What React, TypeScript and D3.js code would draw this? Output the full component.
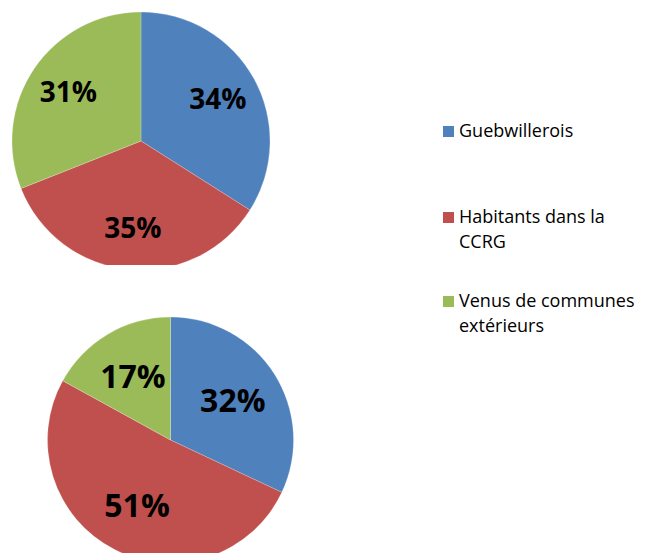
import React from "react";
import * as d3 from "d3";

const categories = ["Guebwillerois", "Habitants dans la CCRG", "Venus de communes extérieurs"];
const legendLines = [["Guebwillerois"], ["Habitants dans la", "CCRG"], ["Venus de communes", "extérieurs"]];
const colors = ["#4F81BD", "#C0504D", "#9BBB59"];
const topValues = [34, 35, 31];
const bottomValues = [32, 51, 17];

const W = 654;
const H = 553;

function Pie({ values, cx, cy, r, fontSize, labelFrac, clipId }: any) {
  const pie = d3.pie<number>().sort(null).value((d) => d);
  const arcs = pie(values);
  const arc = d3.arc<d3.PieArcDatum<number>>().innerRadius(0).outerRadius(r);
  const labelArc = d3.arc<d3.PieArcDatum<number>>().innerRadius(r * labelFrac).outerRadius(r * labelFrac);
  const total = d3.sum(values);
  return (
    <g clipPath={clipId ? `url(#${clipId})` : undefined}>
      <g transform={`translate(${cx},${cy})`}>
        {arcs.map((a, i) => (
          <path key={i} d={arc(a) || ""} fill={colors[i]} stroke="#ffffff" strokeOpacity={0.35} strokeWidth={0.6} />
        ))}
        {arcs.map((a, i) => {
          const [x, y] = labelArc.centroid(a);
          return (
            <text key={"t" + i} x={x} y={y} dy="0.36em" textAnchor="middle" fontFamily="'Open Sans', sans-serif" fontWeight="bold" fontSize={fontSize} fill="#000">
              {Math.round((values[i] / total) * 100)}%
            </text>
          );
        })}
      </g>
    </g>
  );
}

export default function App() {
  const legendX = 443;
  const legendY = [137, 223, 307];
  return (
    <svg width={W} height={H} style={{ position: "fixed", left: 0, top: 0, background: "#fff" }}>
      <defs>
        <clipPath id="topClip">
          <rect x={0} y={0} width={W} height={265} />
        </clipPath>
      </defs>
      <rect x={0} y={0} width={W} height={H} fill="#fff" />
      <Pie values={topValues} cx={141} cy={141} r={129} fontSize={28} labelFrac={0.68} clipId="topClip" />
      <Pie values={bottomValues} cx={170.5} cy={440} r={123} fontSize={32} labelFrac={0.6} />
      {categories.map((c, i) => (
        <g key={c}>
          <rect x={legendX} y={legendY[i] - 11} width={11} height={11} fill={colors[i]} />
          <text x={459} y={legendY[i]} fontFamily="'Open Sans', sans-serif" fontSize={18} fill="#000">
            {legendLines[i].map((l, j) => (
              <tspan key={j} x={459} dy={j === 0 ? 0 : 25}>{l}</tspan>
            ))}
          </text>
        </g>
      ))}
    </svg>
  );
}
